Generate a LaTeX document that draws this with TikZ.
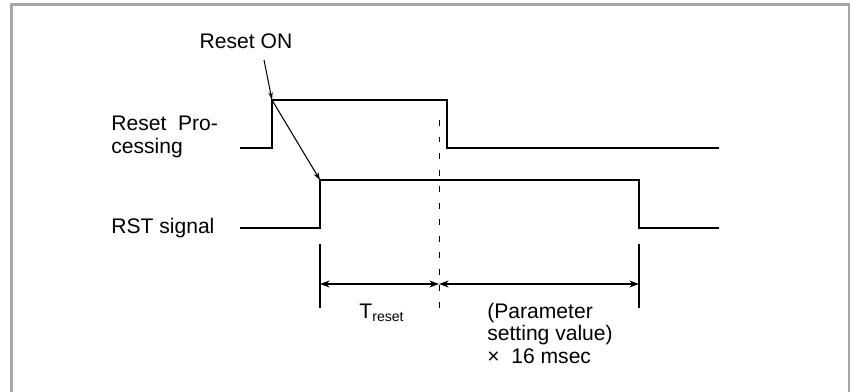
\documentclass[tikz,border=0pt]{standalone}
\usepackage{fontspec}
\setmainfont{Liberation Sans}
\usetikzlibrary{arrows.meta}

\begin{document}
\begin{tikzpicture}[x=0.02cm,y=-0.02cm,
  sig/.style={line width=1.1pt},
  dimline/.style={line width=0.6pt},
  tips/.style={{Stealth[length=5.5pt,width=4pt]}-{Stealth[length=5.5pt,width=4pt]}},
  lbl/.style={font=\fontsize{12}{12.8}\selectfont,inner sep=0pt}]

\useasboundingbox (0,0) rectangle (850,392);
\draw[gray!70,line width=1.2pt] (11.5,392) -- (11.5,4.5) -- (849,4.5) -- (849,392);

\coordinate (p0) at (240,148);
\coordinate (p1) at (272,148);
\coordinate (p2) at (272,100);
\coordinate (p3) at (447,100);
\coordinate (p4) at (447,148);
\coordinate (p5) at (719,148);
\draw[sig] (p0) -- (p1) -- (p2) -- (p3) -- (p4) -- (p5);

\coordinate (r0) at (240,228);
\coordinate (r1) at (320,228);
\coordinate (r2) at (320,180);
\coordinate (r3) at (639,180);
\coordinate (r4) at (639,228);
\coordinate (r5) at (719,228);
\draw[sig] (r0) -- (r1) -- (r2) -- (r3) -- (r4) -- (r5);

\node[lbl,anchor=west,align=left] (procname) at (111,137) {Reset\ \ Pro-\\cessing};
\node[lbl,anchor=west] (rstname) at (111,228) {RST signal};
\node[lbl] (reseton) at (246,41) {Reset ON};

\coordinate (a0) at (264,60);
\draw[dimline,-{Stealth[length=4.5pt,width=2.6pt]}] (a0) -- (p2);
\draw[dimline,-{Stealth[length=4.5pt,width=3pt]}] (p2) -- (r2);

\coordinate (d0) at (439,120);
\coordinate (d1) at (439,310);
\draw[line width=0.5pt,dash pattern=on 3.4pt off 6pt] (d0) -- (d1);

\coordinate (e0) at (320,244);
\coordinate (e1) at (320,308);
\coordinate (e2) at (639,244);
\coordinate (e3) at (639,308);
\draw[dimline] (e0) -- (e1);
\draw[dimline] (e2) -- (e3);

\coordinate (m0) at (320,284);
\coordinate (m1) at (439,284);
\coordinate (m2) at (639,284);
\draw[dimline,tips] (m0) -- (m1);
\draw[dimline,tips] (m1) -- (m2);

\node[lbl] (treset) at (382,313) {T\textsubscript{reset}};
\node[lbl,anchor=west,align=left] (param) at (487,333) {(Parameter\\setting value)\\×\ \ 16 msec};
\end{tikzpicture}
\end{document}
